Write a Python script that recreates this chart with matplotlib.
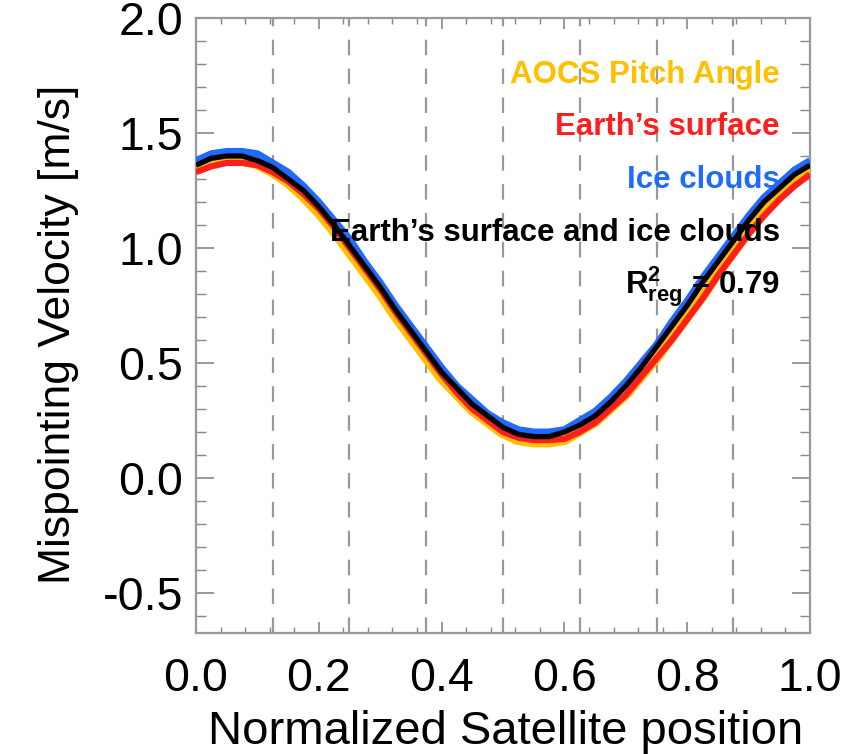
import matplotlib
matplotlib.use("Agg")
import matplotlib.pyplot as plt
import numpy as np

plt.rcParams['font.family'] = ['Liberation Sans', 'DejaVu Sans']
plt.rcParams['mathtext.fontset'] = 'custom'
plt.rcParams['mathtext.rm'] = 'Liberation Sans'
plt.rcParams['mathtext.bf'] = 'Liberation Sans:bold'

# normalized satellite position
pos = [0.000, 0.025, 0.050, 0.075, 0.100, 0.125, 0.150, 0.175, 0.200, 0.225,
       0.250, 0.275, 0.300, 0.325, 0.350, 0.375, 0.400, 0.425, 0.450, 0.475,
       0.500, 0.525, 0.550, 0.575, 0.600, 0.625, 0.650, 0.675, 0.700, 0.725,
       0.750, 0.775, 0.800, 0.825, 0.850, 0.875, 0.900, 0.925, 0.950, 0.975,
       1.000]

# mispointing velocity [m/s]
aocs = [1.35, 1.375, 1.385, 1.385, 1.37, 1.335, 1.29, 1.23, 1.16, 1.08,
        0.99, 0.90, 0.81, 0.71, 0.62, 0.53, 0.44, 0.37, 0.30, 0.25,
        0.20, 0.17, 0.16, 0.16, 0.17, 0.21, 0.25, 0.31, 0.37, 0.45,
        0.53, 0.62, 0.71, 0.80, 0.90, 0.99, 1.08, 1.16, 1.23, 1.29,
        1.34]
earth = [1.33, 1.355, 1.37, 1.37, 1.36, 1.33, 1.29, 1.235, 1.17, 1.09,
         1.00, 0.91, 0.82, 0.72, 0.63, 0.54, 0.45, 0.37, 0.30, 0.25,
         0.20, 0.175, 0.165, 0.165, 0.17, 0.20, 0.24, 0.30, 0.36, 0.44,
         0.52, 0.60, 0.69, 0.78, 0.88, 0.97, 1.06, 1.14, 1.21, 1.27,
         1.32]
ice = [1.38, 1.41, 1.42, 1.42, 1.41, 1.37, 1.33, 1.27, 1.20, 1.12,
       1.04, 0.94, 0.85, 0.75, 0.66, 0.57, 0.48, 0.40, 0.34, 0.28,
       0.24, 0.21, 0.20, 0.20, 0.21, 0.25, 0.29, 0.35, 0.42, 0.50,
       0.58, 0.68, 0.77, 0.87, 0.96, 1.05, 1.14, 1.22, 1.28, 1.34,
       1.38]
both = [1.36, 1.39, 1.40, 1.40, 1.38, 1.35, 1.30, 1.25, 1.18, 1.10,
        1.01, 0.92, 0.83, 0.73, 0.64, 0.55, 0.46, 0.39, 0.32, 0.27,
        0.22, 0.19, 0.18, 0.18, 0.20, 0.23, 0.27, 0.33, 0.40, 0.48,
        0.57, 0.66, 0.75, 0.85, 0.94, 1.03, 1.12, 1.20, 1.26, 1.32,
        1.36]

grid_x = [0.125, 0.25, 0.375, 0.5, 0.625, 0.75, 0.875]

labels = ['AOCS Pitch Angle', "Earth\u2019s surface", 'Ice clouds',
          "Earth\u2019s surface and ice clouds"]
colors = ['#FFC000', '#FF1E1E', '#1F6BFF', 'black']

fig = plt.figure(figsize=(8.54, 7.54), dpi=100)
ax = fig.add_axes([0.2295, 0.1605, 0.719, 0.8156])

for gx in grid_x:
    ax.axvline(gx, color='#999999', lw=1.6, ls=(0, (7, 6)), zorder=1)

ax.plot(pos, aocs, color=colors[0], lw=9, solid_capstyle='butt', zorder=3)
ax.plot(pos, earth, color=colors[1], lw=4.5, solid_capstyle='butt', zorder=4)
ax.plot(pos, ice, color=colors[2], lw=5, solid_capstyle='butt', zorder=5)
ax.plot(pos, both, color=colors[3], lw=3.8, solid_capstyle='butt', zorder=6)

ax.set_xlim(0, 1)
ax.set_ylim(-0.674, 2.0)
ax.set_xticks(np.arange(0, 1.01, 0.2))
ax.set_xticks(np.arange(0, 1.001, 0.04), minor=True)
ax.set_yticks([-0.5, 0.0, 0.5, 1.0, 1.5, 2.0])
ax.set_yticks(np.arange(-0.6, 2.01, 0.1), minor=True)
ax.set_xticklabels(['0.0', '0.2', '0.4', '0.6', '0.8', '1.0'])
ax.set_yticklabels(['-0.5', '0.0', '0.5', '1.0', '1.5', '2.0'])

ax.tick_params(axis='both', which='both', direction='in', top=True, right=True,
               colors='#888888', labelcolor='black', labelsize=33.5)
ax.tick_params(axis='x', which='major', length=8, width=1.2, pad=17)
ax.tick_params(axis='x', which='minor', length=4, width=1.0)
ax.tick_params(axis='y', which='major', length=13, width=1.2, pad=9)
ax.tick_params(axis='y', which='minor', length=7, width=1.0)
for sp in ax.spines.values():
    sp.set_color('#999999')
    sp.set_linewidth(1.6)

ax.set_xlabel('Normalized Satellite position', fontsize=34)
ax.set_ylabel('Mispointing Velocity [m/s]', fontsize=32)
ax.xaxis.set_label_coords(0.505, -0.125)
ax.yaxis.set_label_coords(-0.19, 0.485)

ty = [0.907, 0.822, 0.736, 0.65]
for lab, col, y in zip(labels, colors, ty):
    ax.text(0.951, y, lab, color=col, fontsize=22.5, fontweight='bold',
            ha='right', va='center', transform=ax.transAxes, zorder=7)
ax.text(0.951, 0.563, r'$\mathbf{R}^{\mathbf{2}}_{\mathbf{reg}}$ = 0.79',
        color='black', fontsize=22.5, fontweight='bold', ha='right', va='center',
        transform=ax.transAxes, zorder=7)

fig.savefig('out.png', dpi=100)
